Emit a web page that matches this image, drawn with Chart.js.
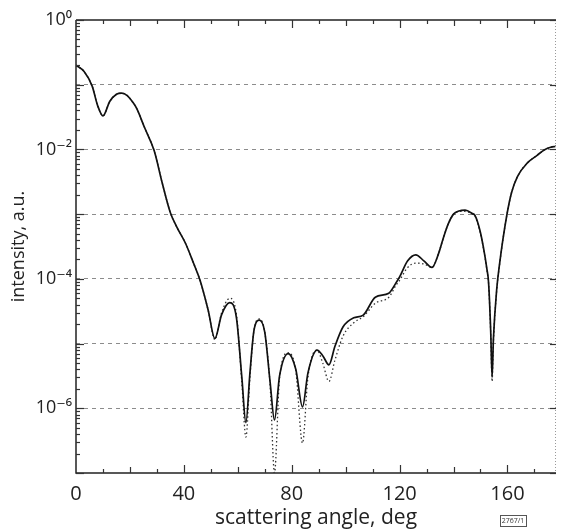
<!DOCTYPE html>
<html><head><meta charset="utf-8">
<script src="https://cdn.jsdelivr.net/npm/chart.js@4/dist/chart.umd.min.js"></script>
<style>html,body{margin:0;padding:0;background:#fff;overflow:hidden}</style>
</head><body>
<canvas id="c" width="565" height="531"></canvas>
<script>
// scattering angle (deg)
const angles = [0,3,6,8,10,12.5,15,17,19,21,22.5,25.3,29,32,35,37.4,40.6,43.6,46,49,51.5,54,57,59.5,61.5,63,64.5,66,68,70,72,73.6,75.5,78.7,81.5,84,86,89.4,91.5,93.8,96,99,103,106.5,111,116,118.7,120,123,126,129,132,134.5,136,138,140,142,144.3,147,148,149.8,151,152.4,153,153.8,154.3,154.8,156,157.1,159.7,161.5,163.7,167.4,171,173.6,176,178];
// solid curve intensity (a.u.)
const solidIntensity = [0.20,0.16,0.095,0.048,0.033,0.055,0.071,0.074,0.068,0.054,0.043,0.0224,0.0095,0.0030,0.00105,6.3e-4,3.55e-4,1.74e-4,9.5e-5,3.3e-5,1.2e-5,2.8e-5,4.3e-5,2.5e-5,3.0e-6,6.0e-7,3.5e-6,1.6e-5,2.3e-5,1.5e-5,2.5e-6,6.6e-7,3.2e-6,7.0e-6,4.0e-6,1.05e-6,3.5e-6,7.9e-6,6.5e-6,4.7e-6,9.0e-6,1.8e-5,2.5e-5,2.75e-5,5.2e-5,6.0e-5,8.7e-5,1.07e-4,1.9e-4,2.35e-4,1.9e-4,1.5e-4,2.5e-4,4.0e-4,7.0e-4,1.0e-3,1.12e-3,1.15e-3,1.02e-3,9.5e-4,5.6e-4,3.2e-4,1.4e-4,8.7e-5,1.5e-5,3.0e-6,1.2e-5,6.8e-5,1.74e-4,9.3e-4,2.14e-3,3.8e-3,6.2e-3,8.1e-3,9.8e-3,1.08e-2,1.12e-2];
// dotted curve intensity (a.u.)
const dottedIntensity = [0.20,0.16,0.095,0.048,0.033,0.055,0.071,0.074,0.068,0.054,0.043,0.0224,0.0095,0.0030,0.00105,6.3e-4,3.55e-4,1.74e-4,9.5e-5,3.3e-5,1.15e-5,3.0e-5,5.0e-5,2.8e-5,2.5e-6,3.6e-7,3.0e-6,1.6e-5,2.4e-5,1.5e-5,2.2e-6,1.0e-7,3.0e-6,7.2e-6,3.8e-6,2.9e-7,3.0e-6,7.9e-6,5.0e-6,2.6e-6,5.5e-6,1.3e-5,2.1e-5,2.6e-5,4.2e-5,5.2e-5,8.0e-5,9.5e-5,1.5e-4,1.75e-4,1.7e-4,1.5e-4,2.5e-4,4.0e-4,7.0e-4,1.0e-3,1.1e-3,1.1e-3,1.0e-3,9.3e-4,5.4e-4,3.1e-4,1.35e-4,8.3e-5,1.4e-5,2.6e-6,1.1e-5,6.5e-5,1.7e-4,9.3e-4,2.14e-3,3.8e-3,6.2e-3,8.1e-3,9.8e-3,1.08e-2,1.12e-2];
// tick labels
const xTickLabels = [0,40,80,120,160];
const yTickExponents = [0,-2,-4,-6];
const yTickTexts = ['10⁰','10⁻²','10⁻⁴','10⁻⁶'];
const xTitle = 'scattering angle, deg';
const yTitle = 'intensity, a.u.';

const FONT = "'Open Sans', 'DejaVu Sans', sans-serif";

const framePlugin = {
  id: 'frame',
  afterDraw(chart) {
    const {ctx, chartArea: a, scales: {x, y}} = chart;
    ctx.save();
    ctx.strokeStyle = '#222'; ctx.lineWidth = 1.5; ctx.setLineDash([]);
    ctx.beginPath();
    ctx.moveTo(a.left, a.top); ctx.lineTo(a.right, a.top);
    ctx.moveTo(a.left, a.top); ctx.lineTo(a.left, a.bottom); ctx.lineTo(a.right, a.bottom);
    ctx.stroke();
    ctx.strokeStyle = '#999'; ctx.lineWidth = 1; ctx.setLineDash([1,2]);
    ctx.beginPath(); ctx.moveTo(a.right-0.5, a.top); ctx.lineTo(a.right-0.5, a.bottom); ctx.stroke();
    ctx.setLineDash([]);
    ctx.strokeStyle = '#333'; ctx.lineWidth = 1.2;
    for (let v = 10; v < x.max; v += 10) {
      const px = Math.round(x.getPixelForValue(v)) + 0.5;
      const len = v % 40 === 0 ? 8 : (v % 20 === 0 ? 6 : 4);
      ctx.beginPath();
      ctx.moveTo(px, a.bottom); ctx.lineTo(px, a.bottom - len);
      ctx.moveTo(px, a.top); ctx.lineTo(px, a.top + len);
      ctx.stroke();
    }
    for (let d = -7; d <= 0; d++) {
      for (let m = 1; m <= 9; m++) {
        const v = m * Math.pow(10, d);
        if (v > 1.0000001 || v < 0.99e-7) continue;
        const py = Math.round(y.getPixelForValue(v)) + 0.5;
        const len = m === 1 ? 8 : 4;
        ctx.beginPath(); ctx.moveTo(a.left, py); ctx.lineTo(a.left + len, py); ctx.stroke();
        if (m === 1) { ctx.beginPath(); ctx.moveTo(a.right, py); ctx.lineTo(a.right - 6, py); ctx.stroke(); }
      }
    }
    ctx.font = "7px " + FONT; ctx.fillStyle = '#333'; ctx.textAlign = 'center'; ctx.textBaseline = 'middle';
    ctx.fillText('2767/1', 513, 521);
    ctx.lineWidth = 1; ctx.strokeStyle = '#555';
    ctx.strokeRect(500.5, 515.5, 26, 11);
    ctx.restore();
  }
};

new Chart(document.getElementById('c'), {
  type: 'line',
  data: {
    labels: angles,
    datasets: [
      { label: 'solid', data: angles.map((a, i) => ({x: a, y: solidIntensity[i]})),
        borderColor: '#111', borderWidth: 1.7, pointRadius: 0, fill: false,
        cubicInterpolationMode: 'monotone' },
      { label: 'dotted', data: angles.map((a, i) => ({x: a, y: dottedIntensity[i]})),
        borderColor: '#333', borderWidth: 1.3, borderDash: [1.5, 2.5], pointRadius: 0, fill: false,
        cubicInterpolationMode: 'monotone' }
    ]
  },
  options: {
    responsive: false, animation: false,
    layout: { padding: { top: 20, right: 2, left: 0, bottom: 0 } },
    plugins: { legend: { display: false }, tooltip: { enabled: false } },
    scales: {
      x: {
        type: 'linear', min: 0, max: 178,
        afterFit: s => { s.height = 58; },
        grid: { display: false, drawTicks: false },
        border: { display: false },
        ticks: { stepSize: 10, padding: 9, color: '#222', maxRotation: 0, autoSkip: false,
          font: { family: FONT, size: 20 },
          callback: v => xTickLabels.includes(v) ? String(v) : '' },
        title: { display: true, text: xTitle, color: '#222', font: { family: FONT, size: 21 },
          padding: { top: 0, bottom: 0 } }
      },
      y: {
        type: 'logarithmic', min: 1e-7, max: 1,
        afterFit: s => { s.width = 76; },
        grid: { drawTicks: false, lineWidth: 1,
          color: c => { const e = Math.log10(c.tick.value); const r = Math.round(e);
            return (Math.abs(e - r) < 1e-6 && r <= -1 && r >= -6) ? '#8c8c8c' : 'rgba(0,0,0,0)'; } },
        border: { display: false, dash: [4, 4] },
        ticks: { padding: 4, color: '#222', autoSkip: false, font: { family: FONT, size: 18 },
          callback: v => { const e = Math.log10(v); const r = Math.round(e);
            if (Math.abs(e - r) > 1e-6) return ''; const k = yTickExponents.indexOf(r);
            return k >= 0 ? yTickTexts[k] : ''; } },
        title: { display: true, text: yTitle, color: '#222', font: { family: FONT, size: 18 },
          padding: { top: 8, bottom: 0 } }
      }
    }
  },
  plugins: [framePlugin]
});
</script>
</body></html>
